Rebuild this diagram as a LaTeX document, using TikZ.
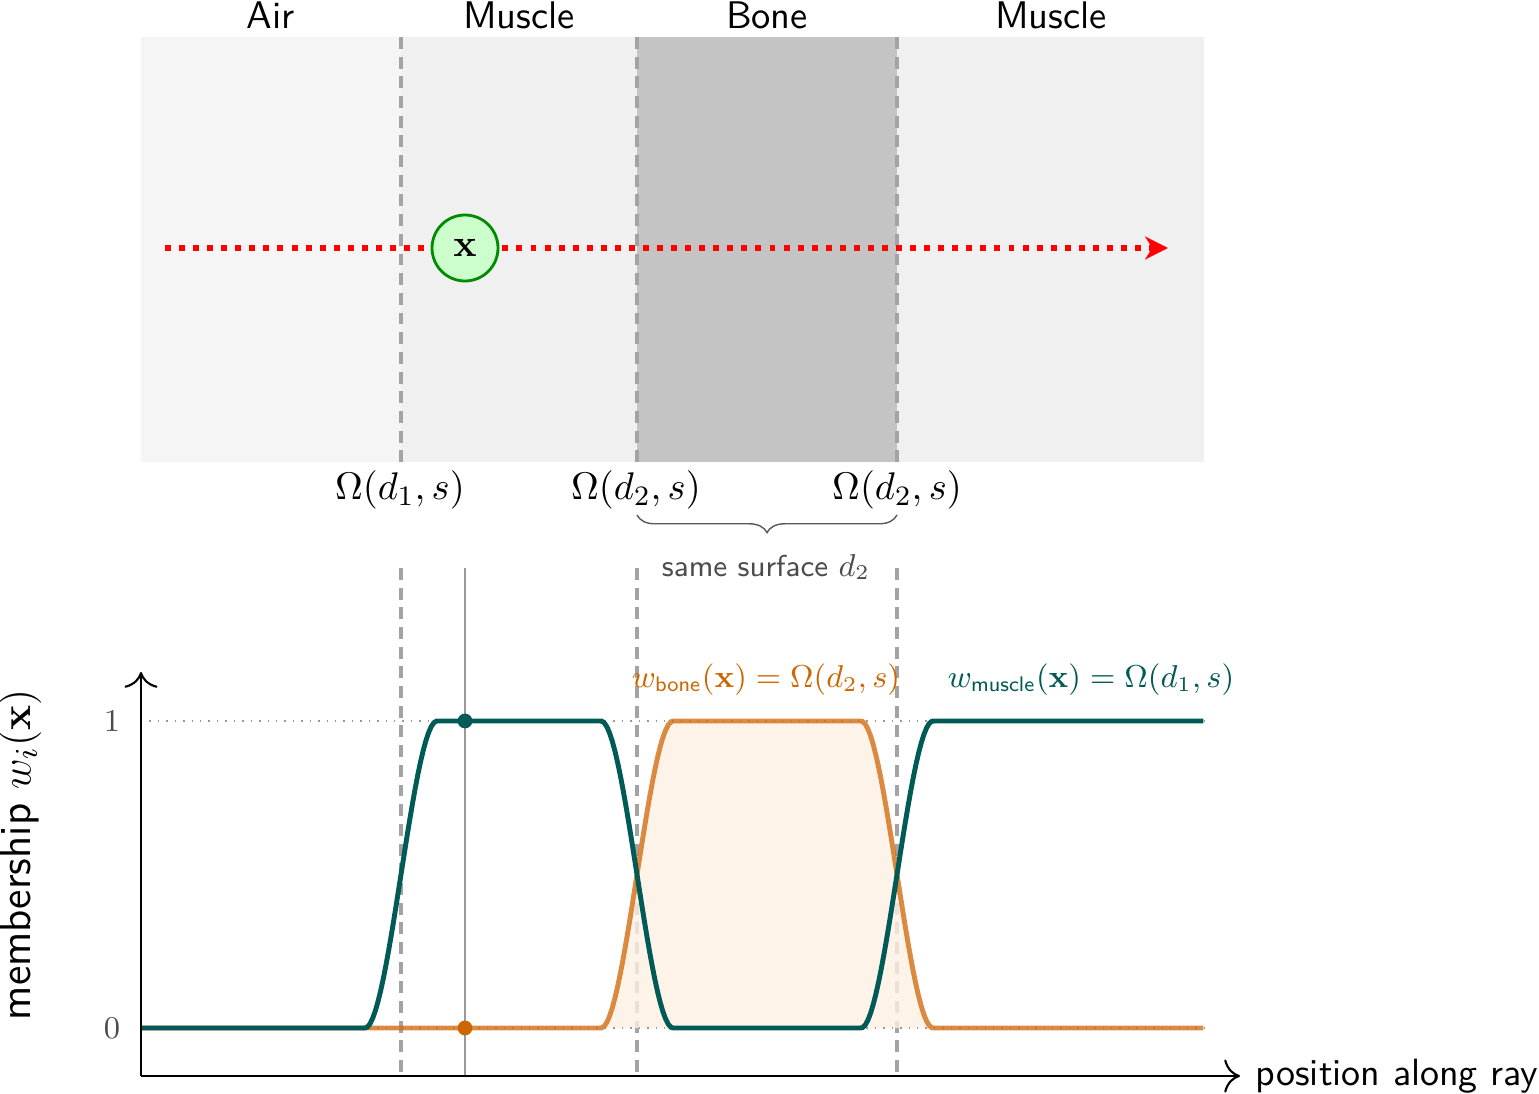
\documentclass[tikz,border=0pt,11pt]{standalone}
\usepackage{amsmath,amssymb}
\usepackage{tikz}
\usetikzlibrary{arrows.meta,positioning,decorations.pathreplacing}
\colorlet{airfill}{black!4}
\colorlet{musclefill}{black!6}
\colorlet{bonefill}{black!23}
\colorlet{boundgray}{black!36}
\definecolor{muscleline}{RGB}{0,90,85}
\definecolor{bonetext}{RGB}{204,102,0}
\definecolor{boneline}{RGB}{210,110,20}
\definecolor{boneshade}{RGB}{253,240,226}

\begin{document}
\begin{tikzpicture}[
  declare function={
    ss(\t)=(\t>1)+and(\t>=0,\t<=1)*(3*\t*\t-2*\t*\t*\t);
    up(\p,\ctr)=ss((\p-\ctr+0.36)/0.72);
    wmus(\p)=up(\p,4.01)-up(\p,6.37)+up(\p,8.97);
    wbone(\p)=up(\p,6.37)-up(\p,8.97);
  },
  boundary/.style={draw=boundgray, line width=1pt, dash pattern=on 3.4pt off 2.2pt},
  tissue/.style={font=\sffamily},
  omlab/.style={font=\normalsize},
  raypath/.style={draw=red, line width=1.7pt, dash pattern=on 1.7pt off 2.3pt,
                  -{Stealth[length=6.5pt, width=6.5pt, inset=2pt]}},
  probe/.style={circle, draw=green!55!black, fill=green!20, thick, minimum size=0.66cm, inner sep=0pt},
  axisline/.style={-{To[length=4.5pt]}, semithick},
  levelline/.style={gray!80, dotted},
  wcurve/.style={line width=1.4pt},
  wdot/.style={circle, inner sep=0pt, minimum size=4.2pt},
  legend/.style={font=\footnotesize}
]
\useasboundingbox (0,0) rectangle (15.39,10.93);

\fill[airfill] (1.41,6.31) rectangle (4.01,10.56);
\fill[musclefill] (4.01,6.31) rectangle (6.37,10.56);
\fill[bonefill] (6.37,6.31) rectangle (8.97,10.56);
\fill[musclefill] (8.97,6.31) rectangle (12.04,10.56);

\node[tissue] (lair) at (2.71,10.78) {Air};
\node[tissue] (lmus1) at (5.19,10.78) {Muscle};
\node[tissue] (lbone) at (7.67,10.78) {Bone};
\node[tissue] (lmus2) at (10.51,10.78) {Muscle};

\foreach \bx in {4.01,6.37,8.97} {
  \draw[boundary] (\bx,10.56) -- (\bx,6.31);
  \draw[boundary] (\bx,5.25) -- (\bx,0.17);
}

\coordinate (raystart) at (1.65,8.45);
\coordinate (rayend) at (11.68,8.45);
\draw[raypath] (raystart) -- (rayend);
\node[probe] (xnode) at (4.65,8.45) {$\mathbf{x}$};

\node[omlab] (om1) at (4.00,6.03) {$\Omega(d_1,s)$};
\node[omlab] (om2) at (6.36,6.03) {$\Omega(d_2,s)$};
\node[omlab] (om3) at (8.97,6.03) {$\Omega(d_2,s)$};

\coordinate (bl) at (6.37,5.78);
\coordinate (br) at (8.97,5.78);
\draw[black!65, decorate, decoration={brace, mirror, amplitude=5pt}] (bl) -- (br);
\node[font=\fontsize{8.6pt}{10pt}\sffamily, text=black!70] (same) at (7.66,5.26) {same surface $d_2$};

\coordinate (origin) at (1.41,0.17);
\coordinate (ytip) at (1.41,4.21);
\coordinate (xtip) at (12.40,0.17);

\fill[boneshade, fill opacity=0.8] plot[domain=6.01:9.33, samples=120] (\x,{0.65+3.07*wbone(\x)}) -- cycle;
\draw[levelline] (1.41,3.72) -- (12.04,3.72);
\draw[levelline] (1.41,0.65) -- (12.04,0.65);

\coordinate (vtop) at (4.65,5.25);
\coordinate (vbot) at (4.65,0.17);
\draw[gray!80, semithick] (vtop) -- (vbot);

\draw[wcurve, boneline, draw opacity=0.8] plot[domain=1.41:12.04, samples=400] (\x,{0.65+3.07*wbone(\x)});
\draw[wcurve, muscleline] plot[domain=1.41:12.04, samples=400] (\x,{0.65+3.07*wmus(\x)});

\draw[axisline] (origin) -- (ytip);
\draw[axisline] (origin) -- (xtip);

\node[wdot, fill=muscleline] (dmus) at (4.65,3.72) {};
\node[wdot, fill=bonetext] (dbone) at (4.65,0.65) {};

\node[font=\footnotesize, text=black!70] (t1) at (1.12,3.72) {$1$};
\node[font=\footnotesize, text=black!70] (t0) at (1.12,0.65) {$0$};
\node[font=\fontsize{12.6pt}{15pt}\sffamily, rotate=90] (ylab) at (0.20,2.38) {membership $w_i(\mathbf{x})$};
\node[font=\fontsize{10.8pt}{13pt}\sffamily, anchor=west, inner sep=0pt] (xlab) at (12.55,0.17) {position along ray};

\node[legend, text=bonetext] (legbone) at (7.66,4.13) {$w_{\textsf{bone}}(\mathbf{x}) = \Omega(d_2,s)$};
\node[legend, text=muscleline] (legmus) at (10.91,4.13) {$w_{\textsf{muscle}}(\mathbf{x}) = \Omega(d_1,s)$};
\end{tikzpicture}
\end{document}
